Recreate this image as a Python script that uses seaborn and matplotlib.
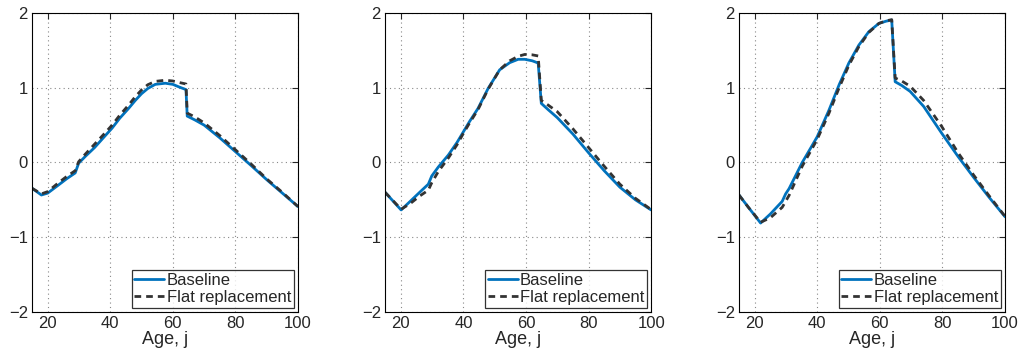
import numpy as np
import pandas as pd
import matplotlib
matplotlib.use("Agg")
import matplotlib.pyplot as plt
import seaborn as sns

# Data (three panels, baseline vs flat replacement)
ages1 = [15, 18, 20, 23.5, 26, 28.8, 29.9, 32, 35, 38, 40.6, 43, 45.9, 48, 50, 52, 54.4, 57.6, 60, 62,
         64.2, 64.6, 67, 70, 75, 80, 85, 90, 95, 100]
base1 = [-0.345, -0.435, -0.41, -0.30, -0.22, -0.14, -0.01, 0.08, 0.20, 0.34, 0.46, 0.59, 0.725, 0.83,
         0.92, 0.99, 1.045, 1.06, 1.045, 1.01, 0.975, 0.62, 0.57, 0.50, 0.33, 0.145, -0.04, -0.23, -0.41, -0.59]
flat1 = [-0.345, -0.42, -0.39, -0.27, -0.19, -0.11, 0.01, 0.11, 0.245, 0.38, 0.50, 0.63, 0.77, 0.88,
         0.97, 1.04, 1.085, 1.10, 1.09, 1.07, 1.05, 0.66, 0.61, 0.53, 0.36, 0.17, -0.02, -0.22, -0.40, -0.59]

ages2 = [15, 20.1, 23, 26, 28.8, 29.9, 32, 35.2, 38, 40, 42, 44.7, 47.9, 51.6, 54.8, 57.5, 59.6, 62,
         63.9, 64.9, 67, 70, 75, 80, 85, 90, 95, 100]
base2 = [-0.40, -0.635, -0.52, -0.40, -0.29, -0.18, -0.06, 0.10, 0.27, 0.41, 0.55, 0.725, 0.99, 1.24,
         1.335, 1.38, 1.38, 1.36, 1.33, 0.79, 0.71, 0.60, 0.38, 0.13, -0.11, -0.33, -0.50, -0.635]
flat2 = [-0.40, -0.625, -0.55, -0.45, -0.37, -0.27, -0.12, 0.06, 0.24, 0.39, 0.53, 0.71, 0.98, 1.24,
         1.36, 1.42, 1.445, 1.44, 1.425, 0.83, 0.77, 0.68, 0.45, 0.20, -0.05, -0.29, -0.48, -0.63]

ages3 = [15, 18, 21.9, 25, 28.8, 29.9, 31, 35.2, 38, 40, 43.75, 47, 50.1, 53.3, 56.5, 59.7, 62, 63.8,
         64.9, 67, 69.7, 74, 79.8, 85, 90, 95, 100]
base3 = [-0.435, -0.60, -0.81, -0.69, -0.52, -0.42, -0.35, 0.0, 0.20, 0.345, 0.70, 1.04, 1.33, 1.57,
         1.75, 1.86, 1.89, 1.905, 1.08, 1.03, 0.95, 0.75, 0.39, 0.08, -0.20, -0.47, -0.725]
flat3 = [-0.435, -0.60, -0.80, -0.74, -0.60, -0.52, -0.44, -0.05, 0.16, 0.31, 0.66, 1.00, 1.30, 1.55,
         1.74, 1.86, 1.895, 1.91, 1.13, 1.09, 1.02, 0.83, 0.48, 0.13, -0.17, -0.45, -0.72]

panels = [(ages1, base1, flat1), (ages2, base2, flat2), (ages3, base3, flat3)]

sns.set_style("white")
plt.rcParams['font.family'] = ['Liberation Sans', 'DejaVu Sans']
plt.rcParams['axes.unicode_minus'] = True

fig = plt.figure(figsize=(10.23, 3.56), dpi=100)
lefts = [0.0313, 0.3765, 0.7224]

for left, (ages, base, flat) in zip(lefts, panels):
    ax = fig.add_axes([left, 0.1236, 0.260, 0.840])
    df = pd.DataFrame({"age": ages, "Baseline": base, "Flat replacement": flat})
    sns.lineplot(data=df, x="age", y="Baseline", ax=ax, color="#0072BD", lw=2.0,
                 label="Baseline", sort=False)
    sns.lineplot(data=df, x="age", y="Flat replacement", ax=ax, color="#333333", lw=2.0,
                 linestyle=(0, (2.4, 1.8)), label="Flat replacement", sort=False)
    ax.set_xlim(15, 100)
    ax.set_ylim(-2, 2)
    ax.set_xticks([20, 40, 60, 80, 100])
    ax.set_yticks([-2, -1, 0, 1, 2])
    ax.grid(True, linestyle=(0, (1, 3)), color="#888888", lw=0.8)
    ax.tick_params(direction="in", top=True, right=True, labelsize=12, length=4, pad=3)
    ax.set_xlabel("Age, j", fontsize=13, labelpad=0)
    ax.set_ylabel("")
    for s in ax.spines.values():
        s.set_color("black")
        s.set_linewidth(0.8)
    leg = ax.legend(loc="lower right", fontsize=12, frameon=True, fancybox=False,
                    borderpad=0.15, handlelength=1.8, handletextpad=0.15, labelspacing=0.15,
                    borderaxespad=0.25)
    leg.get_frame().set_edgecolor("black")
    leg.get_frame().set_linewidth(0.9)

fig.savefig("out.png", dpi=100)
